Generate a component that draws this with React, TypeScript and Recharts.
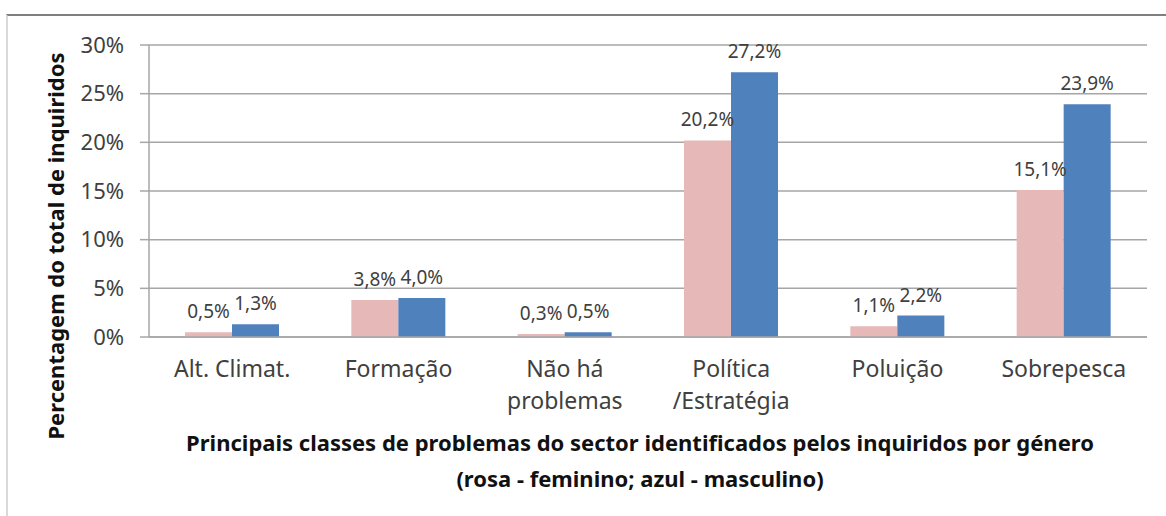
import { BarChart, Bar, XAxis, YAxis, CartesianGrid, LabelList } from 'recharts';

const categories = ["Alt. Climat.", "Formação", "Não há\nproblemas", "Política\n/Estratégia", "Poluição", "Sobrepesca"];
const feminino = [0.5, 3.8, 0.3, 20.2, 1.1, 15.1];
const masculino = [1.3, 4.0, 0.5, 27.2, 2.2, 23.9];
const yTicks = [0, 5, 10, 15, 20, 25, 30];

const data = categories.map((name, i) => ({ name, feminino: feminino[i], masculino: masculino[i] }));

const FONT = '"Noto Sans", sans-serif';
const fmtLabel = (v: any) => `${Number(v).toFixed(1).replace('.', ',')}%`;

const CategoryTick = ({ x, y, payload }: any) => {
  const lines = String(payload.value).split('\n');
  return (
    <text x={x} y={y} textAnchor="middle" fill="#404040" fontSize={23} fontFamily={FONT}>
      {lines.map((l, i) => (
        <tspan key={i} x={x} dy={i === 0 ? 32 : 32}>{l}</tspan>
      ))}
    </text>
  );
};

export default function App() {
  return (
    <div style={{ position: 'absolute', left: 0, top: 0, width: 1166, height: 516, background: '#fff', fontFamily: FONT }}>
      <div style={{ position: 'absolute', left: 6, top: 14, right: 0, bottom: 0, borderTop: '2px solid #7f7f7f', borderLeft: '2px solid #d9d9d9' }} />
      <BarChart
        width={1166}
        height={516}
        data={data}
        margin={{ top: 45, right: 19, left: 69, bottom: 119 }}
        barGap={0}
        barSize={47}
        style={{ position: 'absolute', left: 0, top: 0 }}
      >
        <CartesianGrid vertical={false} stroke="#a6a6a6" strokeWidth={1.5} />
        <XAxis
          dataKey="name"
          height={60}
          tick={<CategoryTick />}
          tickLine={false}
          axisLine={{ stroke: '#a6a6a6', strokeWidth: 1.5 }}
          interval={0}
        />
        <YAxis
          width={80}
          domain={[0, 30]}
          ticks={yTicks}
          tickFormatter={(v) => `${v}%`}
          tick={{ fill: '#404040', fontSize: 22, fontFamily: FONT }}
          tickSize={9}
          tickMargin={16}
          tickLine={{ stroke: '#a6a6a6', strokeWidth: 1.5 }}
          axisLine={{ stroke: '#a6a6a6', strokeWidth: 1.5 }}
        />
        <Bar dataKey="feminino" fill="#e6b9b8" isAnimationActive={false}>
          <LabelList dataKey="feminino" position="top" offset={14} formatter={fmtLabel} fill="#404040" fontSize={19} fontFamily={FONT} />
        </Bar>
        <Bar dataKey="masculino" fill="#4f81bd" isAnimationActive={false}>
          <LabelList dataKey="masculino" position="top" offset={14} formatter={fmtLabel} fill="#404040" fontSize={19} fontFamily={FONT} />
        </Bar>
      </BarChart>
      <div style={{ position: 'absolute', left: 55, top: 246, width: 460, transform: 'translate(-50%, -50%) rotate(-90deg)', textAlign: 'center', fontWeight: 'bold', fontSize: 22, color: '#111', whiteSpace: 'nowrap' }}>
        Percentagem do total de inquiridos
      </div>
      <div style={{ position: 'absolute', left: 90, width: 1100, top: 424, textAlign: 'center', fontWeight: 'bold', fontSize: 22, lineHeight: '36px', color: '#111' }}>
        <div>Principais classes de problemas do sector identificados pelos inquiridos por género</div>
        <div>(rosa - feminino; azul - masculino)</div>
      </div>
    </div>
  );
}
